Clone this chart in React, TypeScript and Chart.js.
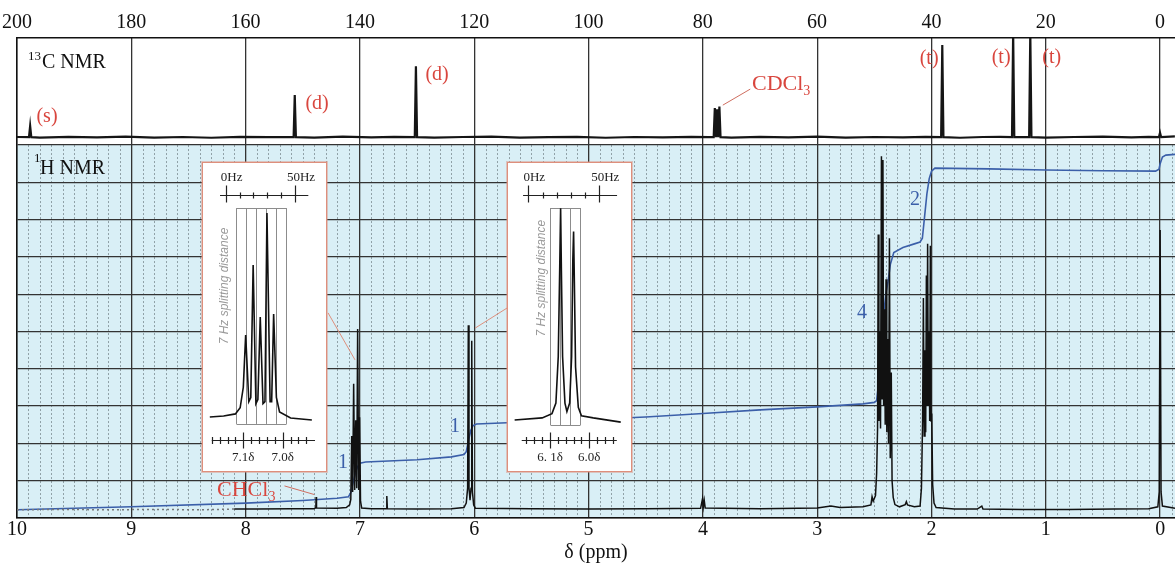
import React, { useEffect, useRef } from "react";
import { Chart, registerables } from "chart.js";

Chart.register(...registerables);

const SERIF = '"Liberation Serif", "DejaVu Serif", serif';
const SANS = '"Liberation Sans", "DejaVu Sans", sans-serif';
const RED = "#d9463e";
const BLUE = "#3b5fa9";
const SALMON = "#de8f7c";

// ---------- axes ----------
const H_TICKS = [10, 9, 8, 7, 6, 5, 4, 3, 2, 1, 0];
const C_TICKS = [200, 180, 160, 140, 120, 100, 80, 60, 40, 20, 0];
const GRID_ROWS = [0, 1, 2, 3, 4, 5, 6, 7, 8, 9, 10];
const H_PANEL_TOP = 10;

// ---------- 13C spectrum ----------
const C_BASELINE = 10.21;
const C_PEAK_PPM = [197.7, 151.4, 130.2, 77.9, 77.5, 77.1, 38.1, 25.7, 22.7, 0.0];
const C_PEAK_HEIGHT = [0.3, 1.13, 1.9, 0.78, 0.75, 0.82, 2.47, 2.8, 2.8, 0.12];
const C_NOISE_PPM = [200, 196, 191, 186, 181, 176, 171, 166, 161, 156, 148, 143, 138, 134, 127, 122, 117, 112, 107, 102, 97, 92, 87, 82, 79, 75, 70, 65, 60, 55, 50, 45, 41, 35, 31, 28, 20, 15, 10, 5, 2, -2.6];
const C_NOISE_OFFSET = [0.005, -0.01, 0.01, -0.005, 0.015, -0.01, 0.005, -0.015, 0.01, 0.0, -0.01, 0.015, -0.005, 0.01, -0.01, 0.005, 0.015, -0.01, 0.0, 0.01, -0.015, 0.005, -0.005, 0.01, 0.0, -0.01, 0.01, -0.005, 0.015, -0.01, 0.005, -0.005, 0.01, -0.015, 0.005, 0.01, -0.01, 0.005, 0.015, -0.005, 0.01, 0.02];
const C_LABEL_TEXT = ["(s)", "(d)", "(d)", "(t)", "(t)", "(t)"];
const C_LABEL_PPM = [194.75, 147.5, 126.5, 40.4, 27.8, 18.95];
const C_LABEL_Y = [10.75, 11.1, 11.88, 12.31, 12.33, 12.33];

// ---------- 1H spectrum ----------
const H_PPM = [10.0, 9.6, 9.2, 8.8, 8.4, 8.1, 7.9, 7.6, 7.4, 7.386, 7.383, 7.38, 7.2, 7.12, 7.09, 7.08, 7.072, 7.064, 7.055, 7.046, 7.037, 7.028, 7.02, 7.011, 7.003, 6.995, 6.985, 6.9, 6.77, 6.765, 6.76, 6.5, 6.2, 6.09, 6.07, 6.058, 6.052, 6.046, 6.037, 6.028, 6.022, 6.016, 6.005, 5.99, 5.5, 5.0, 4.5, 4.02, 4.003, 3.996, 3.988, 3.98, 3.5, 3.0, 2.88, 2.8, 2.6, 2.53, 2.52, 2.51, 2.49, 2.48, 2.472, 2.466, 2.46, 2.452, 2.446, 2.438, 2.432, 2.425, 2.419, 2.412, 2.405, 2.398, 2.391, 2.383, 2.376, 2.368, 2.361, 2.352, 2.345, 2.335, 2.32, 2.28, 2.23, 2.22, 2.21, 2.15, 2.1, 2.088, 2.078, 2.071, 2.064, 2.057, 2.051, 2.045, 2.04, 2.034, 2.028, 2.021, 2.016, 2.01, 2.004, 1.998, 1.99, 1.978, 1.96, 1.8, 1.6, 1.56, 1.55, 1.2, 0.8, 0.4, 0.1, 0.02, 0.008, 0.0, -0.008, -0.02, -0.13];
const H_INT = [0.22, 0.23, 0.22, 0.23, 0.22, 0.24, 0.24, 0.25, 0.25, 0.28, 0.56, 0.27, 0.26, 0.28, 0.35, 0.5, 2.2, 0.7, 3.6, 0.75, 2.62, 0.8, 5.07, 0.75, 2.7, 0.45, 0.27, 0.25, 0.25, 0.59, 0.25, 0.24, 0.25, 0.28, 0.4, 0.8, 5.17, 0.8, 0.48, 0.8, 4.75, 0.7, 0.35, 0.26, 0.25, 0.24, 0.25, 0.26, 0.52, 0.3, 0.47, 0.27, 0.25, 0.27, 0.32, 0.28, 0.3, 0.35, 0.57, 0.45, 0.6, 1.2, 2.4, 7.6, 2.6, 5.0, 2.4, 9.7, 3.2, 9.6, 3.0, 5.6, 2.5, 6.4, 2.3, 4.8, 2.0, 7.5, 1.6, 3.9, 1.0, 0.55, 0.36, 0.3, 0.36, 0.44, 0.35, 0.3, 0.32, 0.8, 2.6, 5.9, 2.2, 4.5, 2.3, 6.5, 3.0, 7.35, 3.0, 5.0, 2.6, 7.3, 2.6, 2.8, 0.9, 0.4, 0.28, 0.24, 0.24, 0.32, 0.24, 0.23, 0.23, 0.24, 0.25, 0.3, 0.7, 7.72, 0.7, 0.32, 0.26];

// ---------- integral ----------
const INT_PPM = [10.0, 9.0, 8.0, 7.5, 7.2, 7.1, 7.08, 7.06, 7.04, 7.02, 7.0, 6.95, 6.5, 6.2, 6.09, 6.07, 6.05, 6.03, 6.01, 5.98, 5.5, 5.0, 4.5, 4.0, 3.5, 3.0, 2.6, 2.5, 2.48, 2.46, 2.44, 2.42, 2.4, 2.38, 2.36, 2.33, 2.25, 2.15, 2.1, 2.08, 2.06, 2.04, 2.02, 2.0, 1.97, 1.5, 1.0, 0.5, 0.04, 0.01, 0.0, -0.02, -0.05, -0.13];
const INT_VAL = [0.22, 0.3, 0.4, 0.47, 0.53, 0.57, 0.68, 0.95, 1.2, 1.38, 1.47, 1.5, 1.56, 1.64, 1.7, 1.78, 2.08, 2.35, 2.48, 2.52, 2.58, 2.64, 2.71, 2.8, 2.9, 2.98, 3.06, 3.1, 3.15, 3.7, 4.6, 5.4, 6.0, 6.35, 6.8, 7.12, 7.25, 7.35, 7.4, 7.5, 8.1, 8.7, 9.1, 9.3, 9.38, 9.36, 9.33, 9.31, 9.3, 9.35, 9.5, 9.68, 9.73, 9.75];
const INT_LABEL_TEXT = ["1", "1", "4", "2"];
const INT_LABEL_PPM = [7.148, 6.168, 2.607, 2.144];
const INT_LABEL_Y = [1.47, 2.44, 5.5, 8.53];

// ---------- insets ----------
const INSET1_PPM = [7.185, 7.15, 7.12, 7.108, 7.1, 7.094, 7.086, 7.081, 7.075, 7.068, 7.063, 7.057, 7.05, 7.045, 7.04, 7.032, 7.028, 7.023, 7.016, 7.008, 6.98, 6.926];
const INSET1_INT = [0.005, 0.01, 0.02, 0.05, 0.15, 0.405, 0.08, 0.1, 0.746, 0.07, 0.09, 0.493, 0.07, 0.08, 1.0, 0.08, 0.08, 0.507, 0.1, 0.03, 0.0, -0.01];
const INSET2_PPM = [6.19, 6.12, 6.095, 6.085, 6.079, 6.075, 6.073, 6.071, 6.068, 6.062, 6.057, 6.05, 6.045, 6.042, 6.04, 6.038, 6.035, 6.028, 6.02, 5.99, 5.92];
const INSET2_INT = [0.0, 0.01, 0.03, 0.08, 0.3, 0.75, 1.0, 0.7, 0.3, 0.08, 0.04, 0.08, 0.3, 0.75, 0.89, 0.65, 0.25, 0.06, 0.02, 0.01, -0.01];
const HZ_TICKS = [0, 10, 20, 30, 40, 50];
const HZ_MAJOR = [0, 50];
const HZ_LABELS = ["0Hz", "50Hz"];
const INSET1_SPLIT_HZ = [7.5, 14.7, 21.9, 29.1, 36.3, 43.5];
const INSET2_SPLIT_HZ = [15.2, 22.2, 29.2, 36.2];
const INSET1_PPM_TICKS = [7.18, 7.16, 7.14, 7.12, 7.1, 7.08, 7.06, 7.04, 7.02, 7.0, 6.98, 6.96, 6.94];
const INSET2_PPM_TICKS = [6.16, 6.14, 6.12, 6.1, 6.08, 6.06, 6.04, 6.02, 6.0, 5.98, 5.96, 5.94];
const INSET1_MAJOR = [7.1, 7.0];
const INSET2_MAJOR = [6.1, 6.0];
const INSET1_LABELS = ["7.1δ", "7.0δ"];
const INSET2_LABELS = ["6. 1δ", "6.0δ"];

// ---------- builders ----------
function buildC() {
  const pts = C_NOISE_PPM.map((p, i) => ({ x: p, y: C_BASELINE + C_NOISE_OFFSET[i] }));
  C_PEAK_PPM.forEach((p, i) => {
    pts.push({ x: p + 0.2, y: C_BASELINE }, { x: p, y: C_BASELINE + C_PEAK_HEIGHT[i] }, { x: p - 0.2, y: C_BASELINE });
  });
  return pts.sort((a, b) => b.x - a.x);
}
const zip = (xs: number[], ys: number[]) => xs.map((x, i) => ({ x, y: ys[i] }));

function seg(ctx: CanvasRenderingContext2D, x0: number, y0: number, x1: number, y1: number) {
  ctx.beginPath();
  ctx.moveTo(x0, y0);
  ctx.lineTo(x1, y1);
  ctx.stroke();
}

const panelPlugin = {
  id: "panels",
  beforeDraw(chart: any) {
    const { ctx, chartArea: a } = chart;
    const y = chart.scales.y;
    const xH = chart.scales.xH;
    ctx.save();
    ctx.fillStyle = "#ffffff";
    ctx.fillRect(0, 0, chart.width, chart.height);
    const top = y.getPixelForValue(H_PANEL_TOP);
    const bottom = y.getPixelForValue(0);
    ctx.fillStyle = "#d9eff6";
    ctx.fillRect(a.left, top, a.right - a.left, bottom - top);
    ctx.strokeStyle = "#8fa0a6";
    ctx.lineWidth = 1;
    ctx.setLineDash([2, 2]);
    for (let k = -2; k < 100; k++) {
      if (k % 10 === 0) continue;
      const px = xH.getPixelForValue(k / 10);
      if (px <= a.left || px >= a.right) continue;
      const rx = Math.round(px) + 0.5;
      seg(ctx, rx, top, rx, bottom);
    }
    ctx.restore();
  },
};

const annotPlugin = {
  id: "annot",
  afterDatasetsDraw(chart: any) {
    const { ctx, chartArea: a } = chart;
    const xH = chart.scales.xH;
    const xC = chart.scales.xC;
    const y = chart.scales.y;
    const hTop = y.getPixelForValue(H_PANEL_TOP);
    ctx.save();
    // panel titles
    ctx.fillStyle = "#111";
    ctx.textAlign = "left";
    ctx.textBaseline = "alphabetic";
    ctx.font = `13px ${SERIF}`;
    ctx.fillText("13", a.left + 11, a.top + 22);
    ctx.font = `20px ${SERIF}`;
    ctx.fillText("C NMR", a.left + 25, a.top + 30);
    ctx.font = `13px ${SERIF}`;
    ctx.fillText("1", a.left + 17, hTop + 17);
    ctx.font = `20px ${SERIF}`;
    ctx.fillText("H NMR", a.left + 23, hTop + 29);

    // red multiplicity labels
    ctx.fillStyle = RED;
    ctx.textAlign = "center";
    ctx.textBaseline = "middle";
    ctx.font = `20px ${SERIF}`;
    C_LABEL_TEXT.forEach((t, i) => ctx.fillText(t, xC.getPixelForValue(C_LABEL_PPM[i]), y.getPixelForValue(C_LABEL_Y[i])));

    // CDCl3
    ctx.textAlign = "left";
    ctx.font = `22px ${SERIF}`;
    let lx = xC.getPixelForValue(71.4);
    let ly = y.getPixelForValue(11.635);
    ctx.fillText("CDCl", lx, ly);
    let w = ctx.measureText("CDCl").width;
    ctx.font = `14px ${SERIF}`;
    ctx.fillText("3", lx + w, ly + 7);
    // CHCl3
    ctx.font = `22px ${SERIF}`;
    lx = xH.getPixelForValue(8.25);
    ly = y.getPixelForValue(0.75);
    ctx.fillText("CHCl", lx, ly);
    w = ctx.measureText("CHCl").width;
    ctx.font = `14px ${SERIF}`;
    ctx.fillText("3", lx + w, ly + 7);

    // leader lines
    ctx.strokeStyle = "#cf6e60";
    ctx.lineWidth = 1;
    seg(ctx, xC.getPixelForValue(76.5), y.getPixelForValue(11.07), xC.getPixelForValue(71.7), y.getPixelForValue(11.5));
    seg(ctx, xH.getPixelForValue(7.66), y.getPixelForValue(0.86), xH.getPixelForValue(7.4), y.getPixelForValue(0.63));
    ctx.strokeStyle = SALMON;
    seg(ctx, xH.getPixelForValue(7.279), y.getPixelForValue(5.5), xH.getPixelForValue(7.043), y.getPixelForValue(4.24));
    seg(ctx, xH.getPixelForValue(5.713), y.getPixelForValue(5.63), xH.getPixelForValue(5.993), y.getPixelForValue(5.09));

    // integral labels
    ctx.fillStyle = BLUE;
    ctx.textAlign = "center";
    ctx.font = `20px ${SERIF}`;
    INT_LABEL_TEXT.forEach((t, i) => ctx.fillText(t, xH.getPixelForValue(INT_LABEL_PPM[i]), y.getPixelForValue(INT_LABEL_Y[i])));
    ctx.restore();
  },
};

function MainChart() {
  const ref = useRef<HTMLCanvasElement>(null);
  useEffect(() => {
    const tickFont = { family: SERIF, size: 20 };
    const chart = new Chart(ref.current as HTMLCanvasElement, {
      type: "line",
      data: {
        datasets: [
          {
            data: zip(H_PPM, H_INT),
            xAxisID: "xH",
            yAxisID: "y",
            borderColor: "#111",
            borderWidth: 1.5,
            pointRadius: 0,
            order: 0,
            segment: {
              borderDash: (c: any) => (c.p0.parsed.x > 8.1 ? [2, 3] : undefined),
              borderColor: (c: any) => (c.p0.parsed.x > 8.1 ? "#777" : undefined),
            },
          } as any,
          { data: zip(INT_PPM, INT_VAL), xAxisID: "xH", yAxisID: "y", borderColor: BLUE, borderWidth: 1.6, pointRadius: 0, order: 1 } as any,
          { data: buildC(), xAxisID: "xC", yAxisID: "y", borderColor: "#151515", borderWidth: 2.2, pointRadius: 0, order: 2 } as any,
        ],
      },
      options: {
        animation: false,
        responsive: false,
        events: [],
        layout: { padding: { left: 17, right: 0, top: 0, bottom: 0 } },
        plugins: { legend: { display: false }, tooltip: { enabled: false } },
        scales: {
          xH: {
            type: "linear",
            position: "bottom",
            min: -0.13,
            max: 10,
            reverse: true,
            afterBuildTicks: (s: any) => { s.ticks = H_TICKS.map((v) => ({ value: v })); },
            afterFit: (s: any) => { s.height = 48; s.paddingLeft = 0; s.paddingRight = 0; },
            ticks: { font: tickFont, color: "#111", padding: 0, maxRotation: 0, autoSkip: false, callback: (v: any) => String(v) },
            grid: { color: "#333", lineWidth: 1.3, drawTicks: false },
            border: { display: true, color: "#111", width: 1.5 },
            title: { display: true, text: "δ (ppm)", font: { family: SERIF, size: 20 }, color: "#111", padding: { top: 0, bottom: 1 } },
          },
          xC: {
            type: "linear",
            position: "top",
            min: -2.62,
            max: 200,
            reverse: true,
            afterBuildTicks: (s: any) => { s.ticks = C_TICKS.map((v) => ({ value: v })); },
            afterFit: (s: any) => { s.height = 38; s.paddingLeft = 0; s.paddingRight = 0; },
            ticks: { font: tickFont, color: "#111", padding: 3, maxRotation: 0, autoSkip: false, callback: (v: any) => String(v) },
            grid: { display: false, drawTicks: false },
            border: { display: true, color: "#111", width: 1.5 },
          },
          y: {
            type: "linear",
            position: "left",
            min: 0,
            max: 12.87,
            afterBuildTicks: (s: any) => { s.ticks = GRID_ROWS.map((v) => ({ value: v })); },
            afterFit: (s: any) => { s.width = 0; },
            ticks: { display: false },
            grid: { color: "#333", lineWidth: 1.3, drawTicks: false },
            border: { display: true, color: "#111", width: 1.5 },
          },
        },
      } as any,
      plugins: [panelPlugin, annotPlugin],
    });
    return () => chart.destroy();
  }, []);
  return <canvas ref={ref} width={1175} height={566} style={{ position: "absolute", left: 0, top: 0 }} />;
}

type InsetSpec = {
  left: number; top: number;
  ppm: number[]; int: number[];
  ppmMin: number; ppmMax: number; hzMin: number; hzMax: number; vMin: number; vMax: number;
  split: number[]; boxV: number[];
  hzAxisV: number; hzRange: number[]; hzLabelV: number;
  ppmAxisV: number; ppmRange: number[]; ppmTicks: number[]; ppmMajor: number[]; ppmLabels: string[]; ppmLabelV: number;
  textHz: number; textV: number;
};

const INSET1: InsetSpec = {
  left: 202, top: 162, ppm: INSET1_PPM, int: INSET1_INT,
  ppmMin: 6.8901, ppmMax: 7.2023, hzMin: -16.38, hzMax: 72.36, vMin: -0.2585, vMax: 1.2439,
  split: INSET1_SPLIT_HZ, boxV: [-0.029, 1.024],
  hzAxisV: 1.088, hzRange: [-4.1, 59.6], hzLabelV: 1.171,
  ppmAxisV: -0.107, ppmRange: [7.18, 6.918], ppmTicks: INSET1_PPM_TICKS, ppmMajor: INSET1_MAJOR, ppmLabels: INSET1_LABELS, ppmLabelV: -0.195,
  textHz: -0.5, textV: 0.644,
};
const INSET2: InsetSpec = {
  left: 507, top: 162, ppm: INSET2_PPM, int: INSET2_INT,
  ppmMin: 5.8939, ppmMax: 6.2069, hzMin: -14.3, hzMax: 72.32, vMin: -0.2409, vMax: 1.214,
  split: INSET2_SPLIT_HZ, boxV: [-0.0236, 1.0014],
  hzAxisV: 1.063, hzRange: [-3.7, 62.5], hzLabelV: 1.143,
  ppmAxisV: -0.0945, ppmRange: [6.172, 5.93], ppmTicks: INSET2_PPM_TICKS, ppmMajor: INSET2_MAJOR, ppmLabels: INSET2_LABELS, ppmLabelV: -0.1795,
  textHz: 9.4, textV: 0.67,
};

function Inset({ spec }: { spec: InsetSpec }) {
  const ref = useRef<HTMLCanvasElement>(null);
  useEffect(() => {
    const decor = {
      id: "insetDecor",
      beforeDatasetsDraw(chart: any) {
        const { ctx } = chart;
        const { hz, y } = chart.scales;
        ctx.save();
        ctx.fillStyle = "#fff";
        ctx.fillRect(0, 0, chart.width, chart.height);
        ctx.strokeStyle = "#8c8c8c";
        ctx.lineWidth = 1;
        const yTop = y.getPixelForValue(spec.boxV[1]);
        const yBot = y.getPixelForValue(spec.boxV[0]);
        const xs = spec.split.map((h) => Math.round(hz.getPixelForValue(h)) + 0.5);
        seg(ctx, xs[0], Math.round(yTop) + 0.5, xs[xs.length - 1], Math.round(yTop) + 0.5);
        seg(ctx, xs[0], Math.round(yBot) + 0.5, xs[xs.length - 1], Math.round(yBot) + 0.5);
        xs.forEach((px) => seg(ctx, px, yTop, px, yBot));
        ctx.fillStyle = "#9a9a9a";
        ctx.font = `italic 12px ${SANS}`;
        ctx.textAlign = "center";
        ctx.textBaseline = "middle";
        ctx.translate(hz.getPixelForValue(spec.textHz), y.getPixelForValue(spec.textV));
        ctx.rotate(-Math.PI / 2);
        ctx.fillText("7 Hz splitting distance", 0, 0);
        ctx.restore();
      },
      afterDatasetsDraw(chart: any) {
        const { ctx } = chart;
        const { x, hz, y } = chart.scales;
        ctx.save();
        ctx.strokeStyle = "#222";
        ctx.lineWidth = 1.2;
        const hy = Math.round(y.getPixelForValue(spec.hzAxisV)) + 0.5;
        seg(ctx, hz.getPixelForValue(spec.hzRange[0]), hy, hz.getPixelForValue(spec.hzRange[1]), hy);
        HZ_TICKS.forEach((t) => {
          const px = Math.round(hz.getPixelForValue(t)) + 0.5;
          const major = HZ_MAJOR.includes(t);
          seg(ctx, px, hy - (major ? 10 : 3), px, hy + (major ? 7 : 3));
        });
        ctx.fillStyle = "#222";
        ctx.font = `13px ${SERIF}`;
        ctx.textAlign = "center";
        ctx.textBaseline = "middle";
        HZ_MAJOR.forEach((t, i) => ctx.fillText(HZ_LABELS[i], hz.getPixelForValue(t) + 6, y.getPixelForValue(spec.hzLabelV)));
        const py = Math.round(y.getPixelForValue(spec.ppmAxisV)) + 0.5;
        seg(ctx, x.getPixelForValue(spec.ppmRange[0]), py, x.getPixelForValue(spec.ppmRange[1]), py);
        spec.ppmTicks.forEach((t) => {
          const px = Math.round(x.getPixelForValue(t)) + 0.5;
          const major = spec.ppmMajor.some((m) => Math.abs(m - t) < 1e-6);
          seg(ctx, px, py - (major ? 8 : 3.5), px, py + (major ? 8 : 3.5));
        });
        spec.ppmMajor.forEach((t, i) => ctx.fillText(spec.ppmLabels[i], x.getPixelForValue(t), y.getPixelForValue(spec.ppmLabelV)));
        ctx.restore();
      },
    };
    const chart = new Chart(ref.current as HTMLCanvasElement, {
      type: "line",
      data: {
        datasets: [
          { data: zip(spec.ppm, spec.int), xAxisID: "x", yAxisID: "y", borderColor: "#111", borderWidth: 1.6, pointRadius: 0 } as any,
        ],
      },
      options: {
        animation: false,
        responsive: false,
        events: [],
        layout: { padding: 0 },
        plugins: { legend: { display: false }, tooltip: { enabled: false } },
        scales: {
          x: { type: "linear", display: false, min: spec.ppmMin, max: spec.ppmMax, reverse: true },
          hz: { type: "linear", axis: "x", position: "bottom", display: false, min: spec.hzMin, max: spec.hzMax },
          y: { type: "linear", display: false, min: spec.vMin, max: spec.vMax },
        },
      } as any,
      plugins: [decor],
    });
    return () => chart.destroy();
  }, [spec]);
  return (
    <div
      style={{
        position: "absolute",
        left: spec.left,
        top: spec.top,
        width: 125,
        height: 310,
        boxSizing: "border-box",
        border: `1px solid ${SALMON}`,
        boxShadow: "0 0 0 1px rgba(222,143,124,0.45)",
        background: "#fff",
      }}
    >
      <canvas ref={ref} width={123} height={308} style={{ display: "block" }} />
    </div>
  );
}

export default function App() {
  return (
    <div style={{ position: "absolute", left: 0, top: 0, width: 1175, height: 566, background: "#fff", overflow: "hidden" }}>
      <MainChart />
      <Inset spec={INSET1} />
      <Inset spec={INSET2} />
    </div>
  );
}
